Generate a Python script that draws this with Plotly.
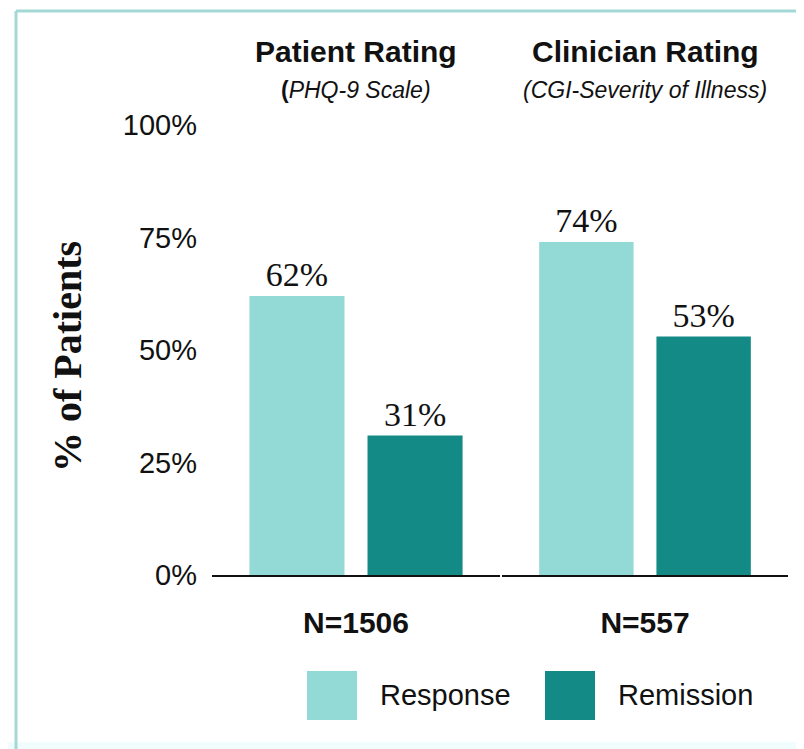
import plotly.graph_objects as go

# ---- data ----
groups = ["Patient Rating", "Clinician Rating"]
subtitles = ["(PHQ-9 Scale)", "(CGI-Severity of Illness)"]
n_labels = ["N=1506", "N=557"]
response = [62, 74]
remission = [31, 53]
y_ticks = [0, 25, 50, 75, 100]
y_ticklabels = ["0%", "25%", "50%", "75%", "100%"]
series_names = ["Response", "Remission"]

COL_RESP = "#93D9D6"
COL_REM = "#138A86"
BORDER = "#A3D9D5"

# page body has an 8px margin: figure is drawn from (8,8) of the window
OFF = 8
WIN_W, WIN_H = 804, 749
W, H = WIN_W - OFF, WIN_H - OFF
PL, PR, PT, PB = 212, 788, 125, 575          # plot area in window pixels
L, R, T = PL - OFF, WIN_W - PR, PT - OFF
B = H - (PB - OFF)
PW, PH = PR - PL, PB - PT


def px(xp):
    return (xp - PL) / PW


def py(yp):
    return (PB - yp) / PH


fig = go.Figure()
axes = ["x", "x2"]
for i, g in enumerate(groups):
    for name, vals, col in [(series_names[0], response, COL_RESP),
                            (series_names[1], remission, COL_REM)]:
        fig.add_trace(go.Bar(
            x=[g], y=[vals[i]], name=name, xaxis=axes[i], yaxis="y",
            marker=dict(color=col, line=dict(width=0)),
            text=[f"{vals[i]}%"], textposition="outside",
            textfont=dict(family="Liberation Serif", size=34, color="#111"),
            cliponaxis=False, showlegend=False, offsetgroup=name,
        ))

xaxis_common = dict(
    type="category", showline=True, linecolor="#111", linewidth=2,
    showgrid=False, zeroline=False, ticks="", anchor="y",
    tickfont=dict(family="Liberation Sans", size=30, color="#111"),
    ticklabelstandoff=20, range=[-0.5, 0.5], fixedrange=True,
)
split = px(500)
split2 = px(502)
fig.update_layout(
    xaxis=dict(domain=[0, split], tickvals=[groups[0]],
               ticktext=[f"<b>{n_labels[0]}</b>"], **xaxis_common),
    xaxis2=dict(domain=[split2, 1], tickvals=[groups[1]],
                ticktext=[f"<b>{n_labels[1]}</b>"], **xaxis_common),
    yaxis=dict(range=[0, 100], tickvals=y_ticks, ticktext=y_ticklabels,
               showgrid=False, zeroline=False, showline=False, ticks="",
               ticklabelstandoff=14,
               tickfont=dict(family="Liberation Sans", size=29, color="#111")),
    barmode="group", bargap=0.18, bargroupgap=0.195,
    width=W, height=H, margin=dict(l=L, r=R, t=T, b=B),
    paper_bgcolor="white", plot_bgcolor="white", showlegend=False,
)

annotations = []
for i, g in enumerate(groups):
    annotations.append(dict(
        xref=axes[i], yref="paper", x=g, y=py(52), text=f"<b>{g}</b>",
        showarrow=False, xanchor="center", yanchor="middle",
        font=dict(family="Liberation Sans", size=30, color="#111")))
    sub = subtitles[i]
    annotations.append(dict(
        xref=axes[i], yref="paper", x=g, y=py(90),
        text=f"<b>{sub[0]}</b><i>{sub[1:]}</i>" if i == 0 else f"<i>{sub}</i>",
        showarrow=False, xanchor="center", yanchor="middle",
        font=dict(family="Liberation Sans", size=23, color="#111")))

annotations.append(dict(
    xref="paper", yref="paper", x=px(67), y=py(357), text="<b>% of Patients</b>",
    textangle=-90, showarrow=False, xanchor="center", yanchor="middle",
    font=dict(family="Liberation Serif", size=40, color="#111")))

# legend (drawn manually, large swatches)
shapes = []
legend_items = [(series_names[0], COL_RESP, 307), (series_names[1], COL_REM, 545)]
for name, col, x0 in legend_items:
    shapes.append(dict(type="rect", xref="paper", yref="paper",
                       x0=px(x0), x1=px(x0 + 50), y0=py(720), y1=py(671),
                       fillcolor=col, line=dict(width=0)))
    annotations.append(dict(
        xref="paper", yref="paper", x=px(x0 + 71), y=py(695), text=name,
        showarrow=False, xanchor="left", yanchor="middle",
        font=dict(family="Liberation Sans", size=29, color="#111")))

# frame
shapes.append(dict(type="rect", xref="paper", yref="paper",
                   x0=px(0), x1=px(WIN_W + 10), y0=py(WIN_H + 10), y1=py(742),
                   fillcolor="#F1FCFC", line=dict(width=0), layer="below"))
shapes.append(dict(type="line", xref="paper", yref="paper",
                   x0=px(16), x1=px(16), y0=py(WIN_H + 10), y1=py(11),
                   line=dict(color=BORDER, width=3)))
shapes.append(dict(type="line", xref="paper", yref="paper",
                   x0=px(16), x1=px(WIN_W + 10), y0=py(11), y1=py(11),
                   line=dict(color=BORDER, width=3)))

fig.update_layout(annotations=annotations, shapes=shapes)
fig.write_html("out.html")
